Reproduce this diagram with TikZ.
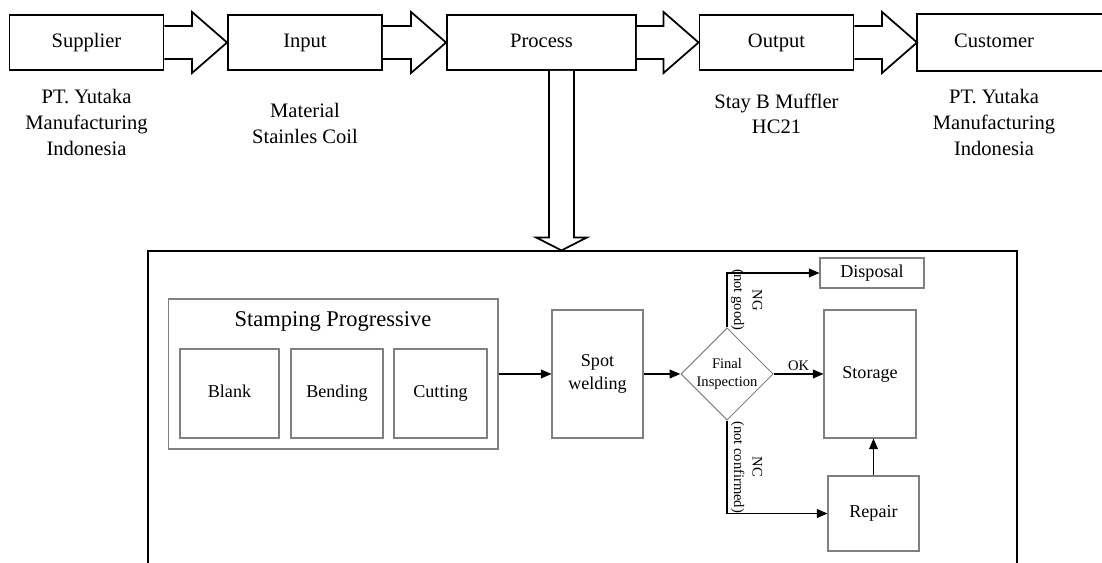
\documentclass[tikz,border=0pt]{standalone}
\usepackage{fontspec}
\setmainfont{Liberation Serif}
\usetikzlibrary{positioning,calc,shapes.geometric,arrows.meta}

\newcommand{\topfont}{\fontsize{11.7}{14.7}\selectfont}
\newcommand{\headfont}{\fontsize{12.8}{15}\selectfont}
\newcommand{\boxfont}{\fontsize{10.3}{13}\selectfont}
\newcommand{\notefont}{\fontsize{8.3}{10.5}\selectfont}

% hollow block arrow from the east side of #1 to the west side of #2
\newcommand{\blockarrow}[2]{%
  \draw[line width=1pt, fill=white]
    ($(#1.east)+(0,-16.5)$) -- ($(#2.west)+(-35,-16.5)$) -- ($(#2.west)+(-35,-30.5)$)
    -- (#2.west) -- ($(#2.west)+(-35,30.5)$) -- ($(#2.west)+(-35,16.5)$)
    -- ($(#1.east)+(0,16.5)$);}

\begin{document}
\begin{tikzpicture}[
    x=0.02cm, y=-0.02cm,
    topbox/.style={draw, line width=1.1pt, minimum width=3.08cm, minimum height=1.1cm,
                   font=\topfont, text height=8pt, text depth=2.5pt},
    toplabel/.style={font=\topfont, align=center},
    procbox/.style={draw=gray, line width=0.6pt, font=\boxfont, align=center},
    stepcell/.style={procbox, minimum height=1.78cm, text height=7pt, text depth=2.2pt},
    conn/.style={->, line width=0.6pt},
    note/.style={font=\notefont, align=center},
    >={Triangle[length=6pt,width=5pt]}
  ]
  \useasboundingbox (0,0) rectangle (1102,563);

  % supply chain along the top
  \node[topbox] (sup) at (86.5,42.5) {Supplier};
  \node[topbox] (inp) at (305,42.5) {Input};
  \node[topbox, minimum width=3.78cm] (proc) at (541.5,42.5) {Process};
  \node[topbox] (out) at (776.5,42.5) {Output};
  \node[topbox, draw=none, minimum width=3.04cm] (cus) at (994,42.5) {Customer};
  \draw[line width=1.1pt] ($(cus.north west)+(200,0)$) -- (cus.north west)
    -- (cus.south west) -- ($(cus.south west)+(200,0)$);

  \blockarrow{sup}{inp}
  \blockarrow{inp}{proc}
  \blockarrow{proc}{out}
  \blockarrow{out}{cus}

  \node[toplabel, below=0.25cm of sup] (suplbl) {PT. Yutaka\\Manufacturing\\Indonesia};
  \node[toplabel, below=0.53cm of inp] (inplbl) {Material\\Stainles Coil};
  \node[toplabel, below=0.33cm of out] (outlbl) {Stay B Muffler\\HC21};
  \node[toplabel, below=0.25cm of cus] (cuslbl) {PT. Yutaka\\Manufacturing\\Indonesia};

  % process detail
  \node[draw, line width=0.7pt, minimum width=17.38cm, minimum height=6.98cm] (frame) at (582.5,425.5) {};

  \coordinate (dtop) at ($(proc.south)+(20,0)$);
  \coordinate (dtip) at (dtop |- frame.north);
  \draw[line width=1pt, fill=white]
    ($(dtop)+(-12.5,0)$) -- ($(dtip)+(-12.5,-13)$) -- ($(dtip)+(-25.5,-13)$) -- (dtip)
    -- ($(dtip)+(25.5,-13)$) -- ($(dtip)+(12.5,-13)$) -- ($(dtop)+(12.5,0)$);

  \node[procbox, minimum width=6.6cm, minimum height=3cm] (stamp) at (333,374) {};
  \node[below=0.14cm of stamp.north, font=\headfont] (stamptitle) {Stamping Progressive};
  \node[stepcell, minimum width=1.98cm] (blank) at (229.5,393.5) {Blank};
  \node[stepcell, minimum width=1.84cm] (bend) at (337,393.5) {Bending};
  \node[stepcell, minimum width=1.86cm] (cut) at (440.5,393.5) {Cutting};

  \node[procbox, minimum width=1.82cm, minimum height=2.56cm] (spot) at (597.5,374) {Spot\\welding};
  \node[diamond, draw=gray, line width=0.6pt, aspect=1, inner sep=0pt, minimum width=1.8cm,
        minimum height=1.76cm, font=\notefont, align=center] (fi) at (727,374) {Final\\Inspection};
  \node[procbox, minimum width=1.84cm, minimum height=2.56cm] (stor) at (870,374) {Storage};
  \node[procbox, minimum width=2.08cm, minimum height=0.6cm] (disp) at (872,273) {Disposal};
  \node[procbox, minimum width=1.82cm, minimum height=1.5cm] (rep) at (873.5,513.5) {Repair};

  \draw[conn] (stamp.east) -- (spot.west);
  \draw[conn] (spot.east) -- (fi.west);
  \draw[conn] (fi.east) -- node[note, above, inner sep=1.5pt] (ok) {OK} (stor.west);
  \draw[conn] (fi.north) |- node[note, pos=0.25, anchor=south, rotate=-90, inner sep=2pt] (ng) {NG\\(not good)} (disp.west);
  \draw[conn] (fi.south) |- node[note, pos=0.25, anchor=south, rotate=-90, inner sep=2pt] (nc) {NC\\(not confirmed)} (rep.west);
  \draw[conn] (rep.north) -- (rep.north |- stor.south);
\end{tikzpicture}
\end{document}
